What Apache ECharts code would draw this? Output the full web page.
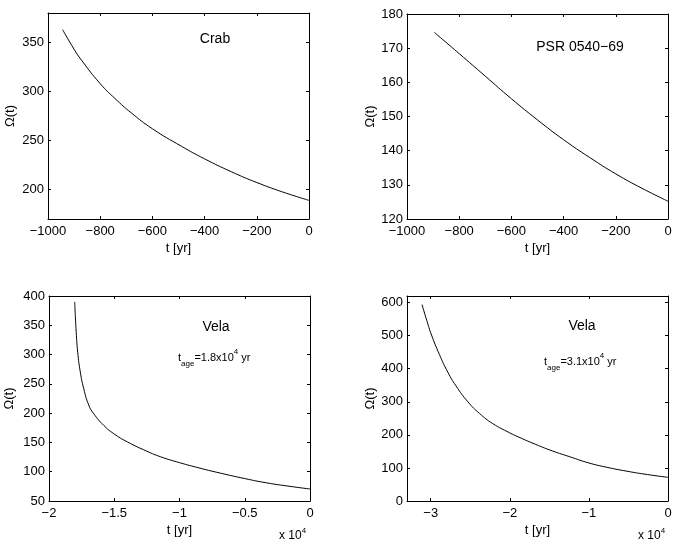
<!DOCTYPE html>
<html>
<head>
<meta charset="utf-8">
<script src="https://cdn.jsdelivr.net/npm/echarts@6/dist/echarts.min.js"></script>
<style>
  html, body { margin: 0; padding: 0; background: #fff; }
  #main { width: 678px; height: 546px; }
</style>
</head>
<body>
<div id="main"></div>
<script>
// values, t in years
var crabT = [-944, -900, -872, -800, -744, -680, -600, -489, -400, -297, -200, -105, 0];
var crabW = [363, 343, 332, 308, 293, 278, 262, 244.2, 231.3, 218.1, 207.2, 197.9, 189];

var psrT = [-895, -800, -700, -600, -500, -400, -300, -200, -100, 0];
var psrW = [174.6, 168.4, 161.8, 155.2, 149.0, 143.2, 138.0, 133.2, 129.0, 125.2];

var velaAT = [-18030, -17930, -17800, -17600, -17340, -16960, -16570, -15800, -15040, -14000, -12500, -11450, -10000, -8420, -7140, -5000, -3320, -1530, 0];
var velaAW = [390, 344, 304, 270, 242, 214, 199, 179, 165, 151, 135, 125.5, 115.5, 106, 99, 88.3, 81, 75, 70.5];

var velaBT = [-31100, -30500, -29900, -28900, -27850, -26800, -25300, -23840, -22150, -20000, -18850, -16710, -14570, -12440, -10000, -7740, -5170, -2600, 0];
var velaBW = [594, 546, 502, 443, 390, 348, 300, 265, 234, 206, 193, 171, 151, 134, 115, 102, 90, 80, 71.6];

// tick labels
var xTicksA = [-1000, -800, -600, -400, -200, 0];
var xTicksB = [-20000, -15000, -10000, -5000, 0];
var xTicksC = [-30000, -20000, -10000, 0];
var yTicks1 = [200, 250, 300, 350];
var yTicks2 = [120, 130, 140, 150, 160, 170, 180];
var yTicks3 = [50, 100, 150, 200, 250, 300, 350, 400];
var yTicks4 = [0, 100, 200, 300, 400, 500, 600];

var FONT = '"Liberation Sans", Arial, Helvetica, sans-serif';

function fmt(v) {
  return String(v).replace('-', '\u2212');
}
function fmt4(v) {
  return fmt(Math.round(v / 1000) / 10);
}

function xAxes(idx, min, max, ticks, formatter) {
  var line = { show: true, onZero: false, lineStyle: { color: '#000', width: 1 } };
  return [{
    type: 'value', gridIndex: idx, position: 'bottom', min: min, max: max,
    axisLine: line,
    axisTick: { show: true, inside: true, length: 3, customValues: ticks, lineStyle: { color: '#000' } },
    axisLabel: { customValues: ticks, formatter: formatter, color: '#000', fontFamily: FONT, fontSize: 13, margin: 6 },
    splitLine: { show: false },
    name: 't [yr]', nameLocation: 'middle', nameGap: 23,
    nameTextStyle: { color: '#000', fontFamily: FONT, fontSize: 13 }
  }, {
    type: 'value', gridIndex: idx, position: 'top', min: min, max: max,
    axisLine: line,
    axisTick: { show: true, inside: true, length: 3, customValues: ticks, lineStyle: { color: '#000' } },
    axisLabel: { show: false },
    splitLine: { show: false }
  }];
}

function yAxes(idx, min, max, ticks, gap) {
  var line = { show: true, onZero: false, lineStyle: { color: '#000', width: 1 } };
  return [{
    type: 'value', gridIndex: idx, position: 'left', min: min, max: max,
    axisLine: line,
    axisTick: { show: true, inside: true, length: 3, customValues: ticks, lineStyle: { color: '#000' } },
    axisLabel: { customValues: ticks, color: '#000', fontFamily: FONT, fontSize: 13, margin: 4 },
    splitLine: { show: false },
    name: '\u03a9(t)', nameLocation: 'middle', nameGap: gap, nameRotate: 90,
    nameTextStyle: { color: '#000', fontFamily: FONT, fontSize: 13 }
  }, {
    type: 'value', gridIndex: idx, position: 'right', min: min, max: max,
    axisLine: line,
    axisTick: { show: true, inside: true, length: 3, customValues: ticks, lineStyle: { color: '#000' } },
    axisLabel: { show: false },
    splitLine: { show: false }
  }];
}

function zip(ts, ws) {
  return ts.map(function(t, i) { return [t, ws[i]]; });
}

function curve(idx, ts, ws) {
  return {
    type: 'line', xAxisIndex: idx * 2, yAxisIndex: idx * 2,
    data: zip(ts, ws), showSymbol: false, smooth: 0.5,
    lineStyle: { color: '#000', width: 1 }, silent: true, animation: false
  };
}

function label(x, y, text, size) {
  return {
    type: 'text', x: x, y: y,
    style: { text: text, fill: '#000', font: size + 'px ' + FONT, align: 'center', verticalAlign: 'middle' }
  };
}

function ageLabel(x, y, age) {
  return {
    type: 'text', x: x, y: y,
    style: {
      text: '{m|t}{s|age}{m|=' + age + 'x10}{p|4}{m| yr}',
      align: 'left', verticalAlign: 'middle',
      rich: {
        m: { fontFamily: FONT, fontSize: 11, lineHeight: 20, fill: '#000', verticalAlign: 'middle' },
        s: { fontFamily: FONT, fontSize: 8, fill: '#000', verticalAlign: 'bottom' },
        p: { fontFamily: FONT, fontSize: 8, fill: '#000', verticalAlign: 'top' }
      }
    }
  };
}

function expLabel(x, y) {
  return {
    type: 'text', x: x, y: y,
    style: {
      text: '{m|x 10}{p|4}',
      align: 'left', verticalAlign: 'middle',
      rich: {
        m: { fontFamily: FONT, fontSize: 12, lineHeight: 18, fill: '#000', verticalAlign: 'middle' },
        p: { fontFamily: FONT, fontSize: 8, fill: '#000', verticalAlign: 'top' }
      }
    }
  };
}

var chart = echarts.init(document.getElementById('main'), null, { renderer: 'canvas' });

var option = {
  backgroundColor: '#fff',
  animation: false,
  grid: [
    { left: 48, top: 13, width: 261, height: 206 },
    { left: 407, top: 14, width: 261, height: 205 },
    { left: 49, top: 296, width: 261, height: 205 },
    { left: 407, top: 296, width: 261, height: 205 }
  ],
  xAxis: [].concat(
    xAxes(0, -1000, 0, xTicksA, fmt),
    xAxes(1, -1000, 0, xTicksA, fmt),
    xAxes(2, -20000, 0, xTicksB, fmt4),
    xAxes(3, -33000, 0, xTicksC, fmt4)
  ),
  yAxis: [].concat(
    yAxes(0, 170, 380, yTicks1, 31),
    yAxes(1, 120, 180, yTicks2, 29),
    yAxes(2, 50, 400, yTicks3, 33),
    yAxes(3, 0, 620, yTicks4, 29)
  ),
  series: [
    curve(0, crabT, crabW),
    curve(1, psrT, psrW),
    curve(2, velaAT, velaAW),
    curve(3, velaBT, velaBW)
  ],
  graphic: [
    label(215, 39, 'Crab', 14),
    label(580, 47, 'PSR 0540\u221269', 14),
    label(216, 327, 'Vela', 14),
    label(582, 326, 'Vela', 14),
    ageLabel(178, 358, '1.8'),
    ageLabel(544, 362, '3.1'),
    expLabel(279, 536),
    expLabel(638, 536)
  ]
};

chart.setOption(option);
</script>
</body>
</html>
